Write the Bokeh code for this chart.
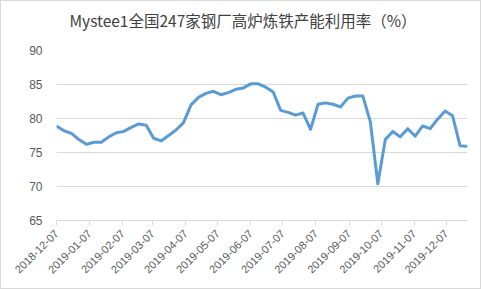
import pandas as pd
from bokeh.plotting import figure
from bokeh.models import FixedTicker, DatetimeTickFormatter, Range1d
from bokeh.embed import file_html
from bokeh.resources import INLINE

title_text = "Mystee1全国247家钢厂高炉炼铁产能利用率（%）"
start_date = "2018-12-07"
rates = [78.9, 78.2, 77.8, 76.9, 76.2, 76.5, 76.5, 77.3, 77.9, 78.1,
         78.7, 79.2, 79.0, 77.1, 76.7, 77.5, 78.3, 79.4, 82.0, 83.1,
         83.7, 84.0, 83.5, 83.8, 84.3, 84.5, 85.1, 85.1, 84.6, 83.9,
         81.2, 80.9, 80.5, 80.8, 78.4, 82.1, 82.3, 82.1, 81.7, 83.0,
         83.3, 83.3, 79.5, 70.4, 76.9, 78.1, 77.3, 78.5, 77.4, 78.9,
         78.5, 79.9, 81.1, 80.4, 76.0, 75.9]
dates = pd.date_range(start_date, periods=len(rates), freq="7D")
tick_labels = ["2018-12-07", "2019-01-07", "2019-02-07", "2019-03-07",
               "2019-04-07", "2019-05-07", "2019-06-07", "2019-07-07",
               "2019-08-07", "2019-09-07", "2019-10-07", "2019-11-07",
               "2019-12-07"]
y_ticks = [65, 70, 75, 80, 85, 90]

p = figure(width=481, height=289, x_axis_type="datetime",
           output_backend="svg", toolbar_location=None,
           min_border_left=55, min_border_right=15,
           min_border_top=48, min_border_bottom=70)
p.x_range = Range1d(dates[0], dates[-1])
p.y_range = Range1d(65, 90)
p.background_fill_color = "white"
p.border_fill_color = "white"
p.outline_line_color = None
p.styles = {"border": "1px solid #d9d9d9", "box-sizing": "border-box"}

p.title.text = title_text
p.title.align = "left"
p.title.offset = 13
p.title.text_font = "Noto Sans CJK SC"
p.title.text_font_size = "15.5px"
p.title.text_font_style = "normal"
p.title.text_color = "#404040"
p.title.padding = dict(left=0, right=0, top=0, bottom=15)

p.line(dates, rates, line_color="#5B9BD5", line_width=3, line_join="round")

xt = [pd.Timestamp(t).value // 10**6 for t in tick_labels]
p.xaxis.ticker = FixedTicker(ticks=xt)
fmt = "%Y-%m-%d"
p.xaxis.formatter = DatetimeTickFormatter(days=fmt, months=fmt, years=fmt,
                                          hours=fmt, minutes=fmt)
p.xaxis.major_label_orientation = 0.785398
p.xaxis.axis_line_color = "#d9d9d9"
p.xaxis.major_tick_line_color = "#d9d9d9"
p.xaxis.major_tick_out = 5
p.xaxis.major_tick_in = 0
p.xaxis.minor_tick_line_color = None
p.xaxis.major_label_text_font = "Liberation Sans"
p.xaxis.major_label_text_font_size = "11px"
p.xaxis.major_label_text_color = "#595959"
p.xaxis.major_label_standoff = 6

p.yaxis.ticker = FixedTicker(ticks=y_ticks)
p.yaxis.axis_line_color = None
p.yaxis.major_tick_line_color = None
p.yaxis.minor_tick_line_color = None
p.yaxis.major_label_text_font = "Liberation Sans"
p.yaxis.major_label_text_font_size = "12px"
p.yaxis.major_label_text_color = "#595959"
p.yaxis.major_label_standoff = 8

p.xgrid.grid_line_color = None
p.ygrid.grid_line_color = "#d9d9d9"
p.ygrid.ticker = FixedTicker(ticks=y_ticks)

open("out.html", "w").write(file_html(p, INLINE))
